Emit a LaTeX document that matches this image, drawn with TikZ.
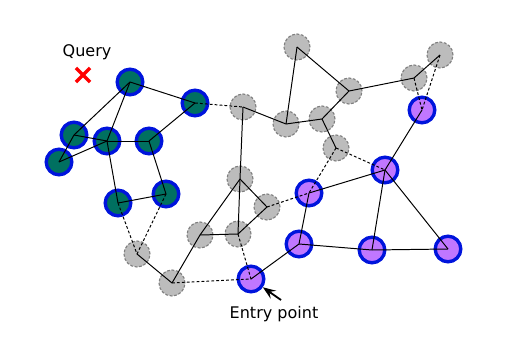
\documentclass[tikz,border=0pt]{standalone}
\usepackage{fontspec}
\setmainfont{DejaVu Sans}
\usepackage{xcolor}
\usetikzlibrary{shapes.misc,arrows.meta,positioning}
\definecolor{visited}{RGB}{0, 112, 96}
\definecolor{candidate}{RGB}{192, 119, 255}
\definecolor{ring}{RGB}{0, 20, 220}
\definecolor{unseen}{RGB}{188, 188, 188}

\begin{document}
\begin{tikzpicture}[
    x=0.025cm, y=-0.025cm,
    font=\fontsize{11.4}{13}\selectfont,
    seen/.style={circle, draw=ring, line width=2.4pt, fill=visited,
        minimum size=0.64cm, inner sep=0pt},
    cand/.style={seen, fill=candidate},
    other/.style={circle, draw=gray, dash pattern=on 2pt off 1.2pt,
        line width=0.8pt, fill=unseen, minimum size=0.65cm, inner sep=0pt},
    edge/.style={line width=0.7pt, draw=black},
    hop/.style={edge, dash pattern=on 2pt off 1.5pt},
    pointer/.style={-{Stealth[length=3.2mm, width=2.4mm, inset=1.2mm]}, line width=1.3pt}
]
\useasboundingbox (0,0) rectangle (507,356);

% visited nodes
\node[seen] (g1) at (130,82) {};
\node[seen] (g2) at (195,103) {};
\node[seen] (g3) at (74,135) {};
\node[seen] (g4) at (107,141) {};
\node[seen] (g5) at (149,141) {};
\node[seen] (g6) at (59,162) {};
\node[seen] (g7) at (118,203) {};
\node[seen] (g8) at (166,194) {};

% nodes not reached yet
\node[other] (u1) at (243,107) {};
\node[other] (u2) at (297,47) {};
\node[other] (u3) at (286,124) {};
\node[other] (u4) at (349,91) {};
\node[other] (u5) at (322,119) {};
\node[other] (u6) at (336,148) {};
\node[other] (u7) at (414,78) {};
\node[other] (u8) at (440,55) {};
\node[other] (u9) at (240,179) {};
\node[other] (u10) at (267,207) {};
\node[other] (u11) at (200,235) {};
\node[other] (u12) at (238,234) {};
\node[other] (u13) at (137,254) {};
\node[other] (u14) at (172,283) {};

% candidate nodes
\node[cand] (c1) at (422,110) {};
\node[cand] (c2) at (385,170) {};
\node[cand] (c3) at (309,193) {};
\node[cand] (c4) at (299,244) {};
\node[cand] (c5) at (372,250) {};
\node[cand] (c6) at (448,249) {};
\node[cand] (entry) at (251,279) {};

% query and entry labels
\node[cross out, draw=red, line width=2.4pt, minimum size=0.27cm, inner sep=0pt] (query) at (83,75) {};
\node (qlabel) at (87,52) {Query};
\node (elabel) at (274,314) {Entry point};
\coordinate (etail) at (281,300);

% edges
\draw[edge] (g1.center) -- (g2.center);
\draw[edge] (g1.center) -- (g3.center);
\draw[edge] (g1.center) -- (g4.center);
\draw[edge] (g3.center) -- (g4.center);
\draw[edge] (g3.center) -- (g6.center);
\draw[edge] (g6.center) -- (g4.center);
\draw[edge] (g4.center) -- (g5.center);
\draw[edge] (g5.center) -- (g2.center);
\draw[edge] (g4.center) -- (g7.center);
\draw[edge] (g5.center) -- (g8.center);
\draw[edge] (g7.center) -- (g8.center);
\draw[edge] (u13.center) -- (u14.center);
\draw[edge] (u14.center) -- (u11.center);
\draw[edge] (u11.center) -- (u12.center);
\draw[edge] (u11.center) -- (u9.center);
\draw[edge] (u9.center) -- (u12.center);
\draw[edge] (u9.center) -- (u10.center);
\draw[edge] (u10.center) -- (u12.center);
\draw[edge] (u9.center) -- (u1.center);
\draw[edge] (u1.center) -- (u3.center);
\draw[edge] (u3.center) -- (u2.center);
\draw[edge] (u2.center) -- (u4.center);
\draw[edge] (u3.center) -- (u5.center);
\draw[edge] (u5.center) -- (u4.center);
\draw[edge] (u4.center) -- (u7.center);
\draw[edge] (u7.center) -- (u8.center);
\draw[edge] (u5.center) -- (u6.center);
\draw[edge] (entry.center) -- (c4.center);
\draw[edge] (c1.center) -- (c2.center);
\draw[edge] (c3.center) -- (c2.center);
\draw[edge] (c3.center) -- (c4.center);
\draw[edge] (c4.center) -- (c5.center);
\draw[edge] (c5.center) -- (c6.center);
\draw[edge] (c2.center) -- (c5.center);
\draw[edge] (c2.center) -- (c6.center);
\draw[hop] (g2.center) -- (u1.center);
\draw[hop] (g7.center) -- (u13.center);
\draw[hop] (g8.center) -- (u13.center);
\draw[hop] (u14.center) -- (entry.center);
\draw[hop] (u12.center) -- (entry.center);
\draw[hop] (u10.center) -- (c3.center);
\draw[hop] (u7.center) -- (c1.center);
\draw[hop] (u8.center) -- (c1.center);
\draw[hop] (u6.center) -- (c3.center);
\draw[hop] (u6.center) -- (c2.center);

\draw[pointer] (etail) -- (entry);

\end{tikzpicture}
\end{document}
